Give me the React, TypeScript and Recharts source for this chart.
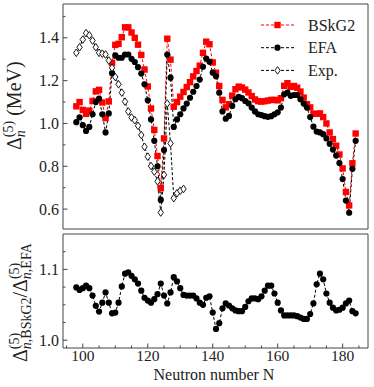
import { LineChart, Line, XAxis, YAxis, Legend, ReferenceArea } from 'recharts';

// Neutron numbers shared by every series
const neutronN = [
  98, 99, 100, 101, 102, 103, 104, 105, 106, 107,
  108, 109, 110, 111, 112, 113, 114, 115, 116, 117,
  118, 119, 120, 121, 122, 123, 124, 125, 126, 127,
  128, 129, 130, 131, 132, 133, 134, 135, 136, 137,
  138, 139, 140, 141, 142, 143, 144, 145, 146, 147,
  148, 149, 150, 151, 152, 153, 154, 155, 156, 157,
  158, 159, 160, 161, 162, 163, 164, 165, 166, 167,
  168, 169, 170, 171, 172, 173, 174, 175, 176, 177,
  178, 179, 180, 181, 182, 183, 184,
];

// Delta_n^(5) in MeV, BSkG2
const bskg2 = [
  1.080, 1.100, 1.063, 1.045, 1.060, 1.105, 1.150, 1.157, 1.098, 1.025,
  1.103, 1.283, 1.367, 1.372, 1.403, 1.449, 1.449, 1.425, 1.400, 1.368,
  1.320, 1.252, 1.173, 1.070, 0.970, 0.848, 0.698, 0.930, 1.396, 1.298,
  1.078, 1.100, 1.125, 1.147, 1.170, 1.193, 1.220, 1.245, 1.270, 1.330,
  1.382, 1.370, 1.285, 1.237, 1.175, 1.110, 1.075, 1.090, 1.130, 1.160,
  1.172, 1.168, 1.158, 1.145, 1.128, 1.112, 1.104, 1.102, 1.104, 1.107,
  1.110, 1.110, 1.108, 1.118, 1.176, 1.188, 1.171, 1.175, 1.167, 1.149,
  1.121, 1.090, 1.075, 1.045, 1.045, 1.047, 1.030, 1.000, 0.958, 0.927,
  0.896, 0.855, 0.790, 0.680, 0.617, 0.814, 0.953,
];

// Delta_n^(5) in MeV, EFA
const efa = [
  1.006, 1.028, 0.992, 0.965, 0.984, 1.043, 1.100, 1.116, 1.043, 0.958,
  1.047, 1.235, 1.318, 1.307, 1.307, 1.322, 1.322, 1.302, 1.287, 1.263,
  1.233, 1.183, 1.108, 1.019, 0.919, 0.800, 0.643, 0.876, 1.322, 1.214,
  0.984, 1.019, 1.043, 1.070, 1.093, 1.120, 1.148, 1.175, 1.205, 1.265,
  1.303, 1.288, 1.237, 1.220, 1.144, 1.056, 1.022, 1.035, 1.082, 1.113,
  1.124, 1.118, 1.105, 1.094, 1.074, 1.056, 1.043, 1.039, 1.034, 1.031,
  1.034, 1.043, 1.052, 1.074, 1.136, 1.144, 1.129, 1.133, 1.133, 1.113,
  1.093, 1.074, 1.030, 0.985, 0.962, 0.958, 0.950, 0.930, 0.905, 0.878,
  0.850, 0.815, 0.740, 0.640, 0.583, 0.788, 0.919,
];

// Experimental values, N = 98..131
const expValues = [
  1.330, 1.356, 1.392, 1.422, 1.412, 1.387, 1.356, 1.330, 1.326, 1.322,
  1.294, 1.260, 1.217, 1.183, 1.144, 1.102, 1.056, 1.028, 1.015, 0.989,
  0.946, 0.891, 0.845, 0.801, 0.775, 0.730, 0.584, 0.760, 1.093, 0.907,
  0.651, 0.674, 0.686, 0.694,
];

// BSkG2 / EFA ratio
const ratio = [
  1.0745, 1.071, 1.0735, 1.077, 1.0735, 1.063, 1.0485, 1.0405, 1.053, 1.0675,
  1.053, 1.038, 1.039, 1.053, 1.076, 1.094, 1.096, 1.091, 1.086, 1.080,
  1.070, 1.060, 1.056, 1.053, 1.058, 1.065, 1.080, 1.063, 1.052, 1.0675,
  1.089, 1.083, 1.0735, 1.064, 1.063, 1.063, 1.063, 1.059, 1.053, 1.050,
  1.060, 1.062, 1.039, 1.016, 1.024, 1.045, 1.052, 1.049, 1.045, 1.042,
  1.041, 1.041, 1.047, 1.055, 1.059, 1.059, 1.058, 1.062, 1.070, 1.077,
  1.077, 1.066, 1.053, 1.042, 1.035, 1.035, 1.035, 1.035, 1.034, 1.032,
  1.030, 1.030, 1.037, 1.052, 1.079, 1.094, 1.086, 1.066, 1.053, 1.046,
  1.042, 1.043, 1.046, 1.052, 1.056, 1.041, 1.038,
];

const xTicks = [95, 100, 105, 110, 115, 120, 125, 130, 135, 140, 145, 150, 155, 160, 165, 170, 175, 180, 185];
const topYTicks = [0.6, 0.7, 0.8, 0.9, 1.0, 1.1, 1.2, 1.3, 1.4, 1.5];
const ratioYTicks = [1.0, 1.025, 1.05, 1.075, 1.1, 1.125];
const legendLabels = ['BSkG2', 'EFA', 'Exp.'];

const X_DOMAIN = [93.9, 187.8];
const TOP_Y_DOMAIN = [0.507, 1.558];
const RATIO_Y_DOMAIN = [0.989, 1.15];

const FONT = "'Liberation Serif', serif";
const FRAME = '#444';
const TEXT = '#222';
const RED = '#ff0000';

const topData = neutronN.map((n, i) => ({
  n,
  bskg2: bskg2[i],
  efa: efa[i],
  exp: i < expValues.length ? expValues[i] : null,
}));
const ratioData = neutronN.map((n, i) => ({ n, ratio: ratio[i] }));

/* ---------- markers ---------- */
const Square = ({ cx, cy }: any) => (
  <rect x={cx - 3.2} y={cy - 3.2} width={6.4} height={6.4} fill={RED} />
);
const Circle = ({ cx, cy }: any) => <circle cx={cx} cy={cy} r={3.1} fill="#000" />;
const Diamond = ({ cx, cy }: any) => (
  <polygon
    points={`${cx},${cy - 3.8} ${cx + 2.7},${cy} ${cx},${cy + 3.8} ${cx - 2.7},${cy}`}
    fill="#fff"
    stroke="#000"
    strokeWidth={0.9}
  />
);

const dotRenderer = (Marker: any, name: string) => (props: any) => {
  const { cx, cy, index, value } = props;
  if (cx == null || cy == null || value == null) return <g key={`${name}-${index}`} />;
  return <Marker key={`${name}-${index}`} cx={cx} cy={cy} />;
};

/* ---------- ticks (inward, matplotlib style) ---------- */
const XTick = ({ x, y, payload, showLabel }: any) => {
  const major = payload.value % 20 === 0;
  return (
    <g>
      <line x1={x} x2={x} y1={y} y2={y - (major ? 4.5 : 2.5)} stroke={FRAME} strokeWidth={1} />
      {showLabel && major && (
        <text x={x} y={y + 13} textAnchor="middle" fontSize={15.5} style={{ fontFamily: FONT }} fill={TEXT}>
          {payload.value}
        </text>
      )}
    </g>
  );
};

const YTick = ({ x, y, payload, majorStep }: any) => {
  const q = payload.value / majorStep;
  const major = Math.abs(q - Math.round(q)) < 1e-6;
  return (
    <g>
      <line x1={x} x2={x + (major ? 4.5 : 2.5)} y1={y} y2={y} stroke={FRAME} strokeWidth={1} />
      {major && (
        <text x={x - 4} y={y + 5.5} textAnchor="end" fontSize={16} style={{ fontFamily: FONT }} fill={TEXT}>
          {payload.value.toFixed(1)}
        </text>
      )}
    </g>
  );
};

/* ---------- legend ---------- */
const legendMarkers = [Square, Circle, Diamond];
const legendColors = [RED, '#000', '#000'];

const LegendContent = () => (
  <svg width={112} height={72} style={{ fontFamily: FONT }}>
    {legendLabels.map((label, i) => {
      const Marker = legendMarkers[i];
      const cy = 13 + i * 22.7;
      return (
        <g key={label}>
          <line x1={6} x2={39} y1={cy} y2={cy} stroke={legendColors[i]} strokeDasharray="3 2" strokeWidth={1} />
          <Marker cx={22.5} cy={cy} />
          <text x={53} y={cy + 5.5} fontSize={16} fill={TEXT}>
            {label}
          </text>
        </g>
      );
    })}
  </svg>
);

const App = () => {
  return (
    <div style={{ position: 'absolute', left: 0, top: 0, width: 374, height: 387, background: '#fff' }}>
      {/* Top panel: Delta_n^(5) */}
      <div style={{ position: 'absolute', left: 0, top: 0 }}>
        <LineChart width={374} height={232} data={topData} margin={{ top: 4, right: 6, bottom: 3, left: 0 }}>
          <XAxis
            dataKey="n"
            type="number"
            domain={X_DOMAIN}
            ticks={xTicks}
            height={0}
            axisLine={false}
            tickLine={false}
            tickSize={0}
            tickMargin={0}
            tick={<XTick showLabel={false} />}
            allowDataOverflow
            interval={0}
          />
          <YAxis
            type="number"
            domain={TOP_Y_DOMAIN}
            ticks={topYTicks}
            width={63}
            axisLine={false}
            tickLine={false}
            tickSize={0}
            tickMargin={0}
            tick={<YTick majorStep={0.2} />}
            allowDataOverflow
            interval={0}
          />
          <Line
            dataKey="bskg2"
            stroke={RED}
            strokeWidth={1}
            strokeDasharray="3 2"
            dot={dotRenderer(Square, 'sq')}
            activeDot={false}
            isAnimationActive={false}
          />
          <Line
            dataKey="efa"
            stroke="#000"
            strokeWidth={1}
            strokeDasharray="3 2"
            dot={dotRenderer(Circle, 'ci')}
            activeDot={false}
            isAnimationActive={false}
          />
          <Line
            dataKey="exp"
            stroke="#000"
            strokeWidth={1}
            strokeDasharray="3 2"
            dot={dotRenderer(Diamond, 'di')}
            activeDot={false}
            isAnimationActive={false}
          />
          {/* plot frame */}
          <ReferenceArea
            x1={X_DOMAIN[0]}
            x2={X_DOMAIN[1]}
            y1={TOP_Y_DOMAIN[0]}
            y2={TOP_Y_DOMAIN[1]}
            fill="none"
            fillOpacity={0}
            stroke={FRAME}
            strokeWidth={1}
            ifOverflow="visible"
          />
          <Legend
            layout="horizontal"
            verticalAlign="middle"
            align="center"
            content={<LegendContent />}
            wrapperStyle={{ position: 'absolute', left: 255, top: 12, width: 112, height: 72 }}
          />
        </LineChart>
      </div>

      {/* Bottom panel: ratio */}
      <div style={{ position: 'absolute', left: 0, top: 232 }}>
        <LineChart width={374} height={155} data={ratioData} margin={{ top: 2, right: 6, bottom: 0, left: 0 }}>
          <XAxis
            dataKey="n"
            type="number"
            domain={X_DOMAIN}
            ticks={xTicks}
            height={39}
            axisLine={false}
            tickLine={false}
            tickSize={0}
            tickMargin={0}
            tick={<XTick showLabel />}
            allowDataOverflow
            interval={0}
          />
          <YAxis
            type="number"
            domain={RATIO_Y_DOMAIN}
            ticks={ratioYTicks}
            width={63}
            axisLine={false}
            tickLine={false}
            tickSize={0}
            tickMargin={0}
            tick={<YTick majorStep={0.1} />}
            allowDataOverflow
            interval={0}
          />
          <Line
            dataKey="ratio"
            stroke="#000"
            strokeWidth={1}
            strokeDasharray="3 2"
            dot={dotRenderer(Circle, 'rc')}
            activeDot={false}
            isAnimationActive={false}
          />
          <ReferenceArea
            x1={X_DOMAIN[0]}
            x2={X_DOMAIN[1]}
            y1={RATIO_Y_DOMAIN[0]}
            y2={RATIO_Y_DOMAIN[1]}
            fill="none"
            fillOpacity={0}
            stroke={FRAME}
            strokeWidth={1}
            ifOverflow="visible"
          />
        </LineChart>
      </div>

      {/* Axis titles */}
      <svg
        width={374}
        height={387}
        style={{ position: 'absolute', left: 0, top: 0, pointerEvents: 'none', fontFamily: FONT }}
        fill={TEXT}
      >
        <text transform="translate(21,150) rotate(-90)" textAnchor="start" fontSize={20}>
          Δ
          <tspan fontSize={14} dy={-8}>(5)</tspan>
          <tspan fontSize={14} fontStyle="italic" dx={-16.4} dy={12}>n</tspan>
          <tspan dy={-4} dx={9.4}>{' (MeV)'}</tspan>
        </text>
        <text transform="translate(27,362) rotate(-90)" textAnchor="start" fontSize={20}>
          Δ
          <tspan fontSize={14} dy={-8}>(5)</tspan>
          <tspan fontSize={14} dx={-16.4} dy={12}>
            <tspan fontStyle="italic">n</tspan>,BSkG2
          </tspan>
          <tspan dy={-4}>/Δ</tspan>
          <tspan fontSize={14} dy={-8}>(5)</tspan>
          <tspan fontSize={14} dx={-16.4} dy={12}>
            <tspan fontStyle="italic">n</tspan>,EFA
          </tspan>
        </text>
        <text x={214} y={380} textAnchor="middle" fontSize={16}>
          Neutron number N
        </text>
      </svg>
    </div>
  );
};

export default App;
